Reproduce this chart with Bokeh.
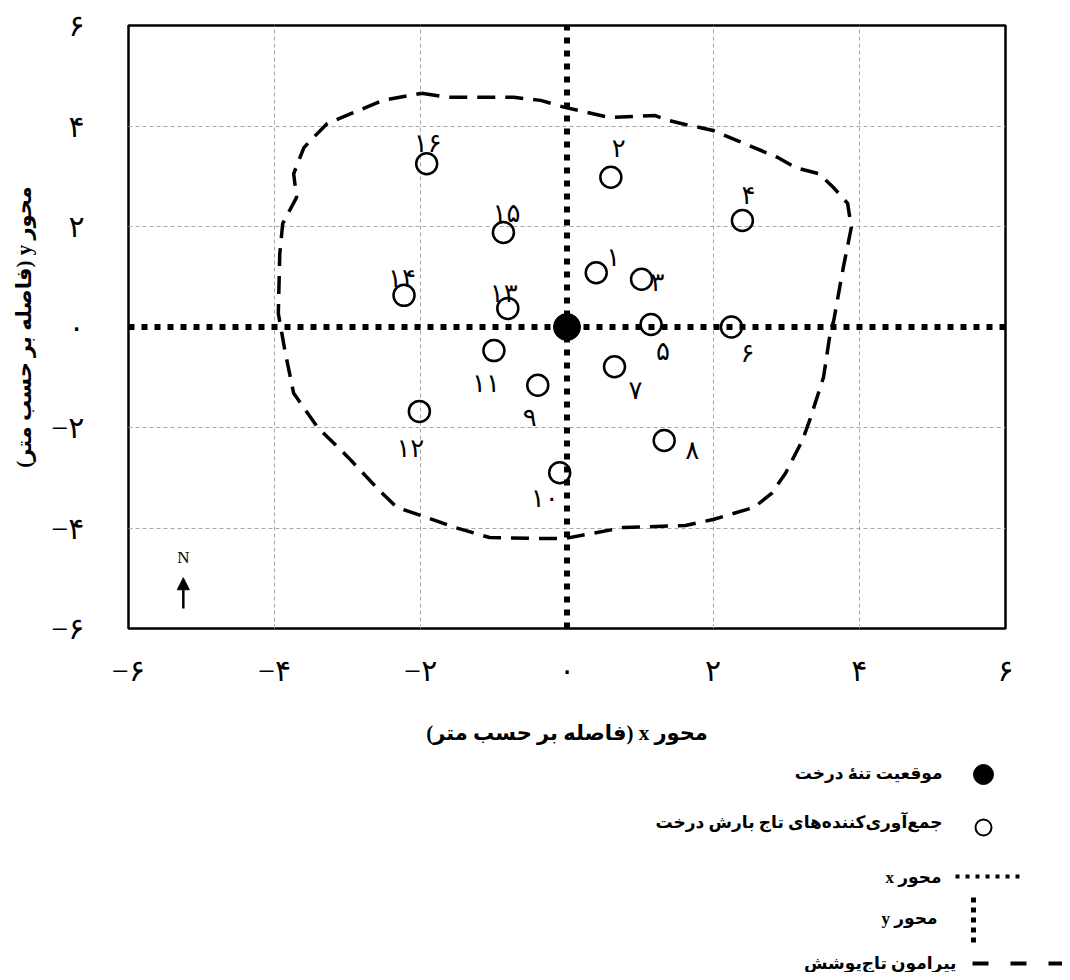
from bokeh.plotting import figure
from bokeh.models import Range1d, FixedTicker, Arrow, NormalHead, ColumnDataSource
from bokeh.layouts import column
from bokeh.embed import file_html
from bokeh.resources import INLINE
from bokeh.core.properties import value

# ---------------- data ----------------
tick_values = [-6, -4, -2, 0, 2, 4, 6]
grid_values = [-4, -2, 2, 4]

trunk_x = [0.0]
trunk_y = [0.0]

collector_ids = list(range(1, 17))
collector_x = [0.40, 0.60, 1.02, 2.40, 1.15, 2.25, 0.65, 1.33,
               -0.40, -0.10, -1.00, -2.02, -0.81, -2.23, -0.87, -1.92]
collector_y = [1.08, 2.98, 0.95, 2.12, 0.05, 0.00, -0.79, -2.26,
               -1.16, -2.90, -0.47, -1.68, 0.37, 0.63, 1.88, 3.25]

crown_x = [-1.99, -1.62, -0.73, -0.36, -0.03, 0.58, 1.20, 1.39, 1.62, 2.00,
           2.33, 2.56, 2.89, 3.13, 3.45, 3.65, 3.84, 3.89, 3.78, 3.65,
           3.60, 3.51, 3.32, 3.22, 2.99, 2.80, 2.56, 2.00, 1.62, 0.77,
           -0.03, -0.36, -1.06, -1.53, -2.00, -2.33, -2.57, -2.99, -3.41, -3.74,
           -3.86, -3.95, -3.93, -3.89, -3.70, -3.74, -3.60, -3.47, -3.28, -2.95,
           -2.52, -1.99]
crown_y = [4.65, 4.57, 4.57, 4.51, 4.37, 4.17, 4.21, 4.11, 4.03, 3.91,
           3.71, 3.57, 3.37, 3.17, 3.05, 2.77, 2.46, 1.98, 1.18, 0.13,
           -0.13, -1.00, -1.86, -2.26, -2.91, -3.31, -3.59, -3.83, -3.95, -3.99,
           -4.21, -4.21, -4.19, -3.99, -3.75, -3.59, -3.25, -2.60, -2.00, -1.32,
           -0.47, 0.27, 1.46, 2.06, 2.58, 3.05, 3.57, 3.77, 4.05, 4.25,
           4.51, 4.65]

# label placement (screen px offsets from each collector)
label_dx = [17, 8, 16, 6, 12, 16, 21, 28, -8, -15, -8, -9, -4, -2, 3, 1]
label_dy = [-15, -29, 3, -25, 27, 26, 24, 10, 32, 26, 33, 37, -15, -17, -19, -20]

x_title = "محور x (فاصله بر حسب متر)"
y_title = "محور y (فاصله بر حسب متر)"
legend_texts = ["موقعیت تنهٔ درخت",
                "جمع‌آوری‌کننده‌های تاج بارش درخت",
                "محور x",
                "محور y",
                "پیرامون تاج‌پوشش"]

FA_DIGITS = str.maketrans("0123456789", "۰۱۲۳۴۵۶۷۸۹")


def fa(n):
    s = str(abs(n)).translate(FA_DIGITS)
    return ("\u2212" + s) if n < 0 else s


def rtl(s):
    return "\u202B" + s + "\u202C"


AR_FONT = "'Liberation Serif', 'DejaVu Sans'"
TITLE_FONT = "'Liberation Serif', 'DejaVu Sans'"

# ---------------- main chart ----------------
p = figure(width=1062, height=750,
           x_range=Range1d(tick_values[0], tick_values[-1]),
           y_range=Range1d(tick_values[0], tick_values[-1]),
           output_backend="svg", toolbar_location=None,
           min_border_left=128, min_border_right=57,
           min_border_top=25, min_border_bottom=122)
p.background_fill_color = "white"
p.border_fill_color = "white"
p.outline_line_color = "black"
p.outline_line_width = 2.5
p.outline_line_alpha = 1.0

for ax in (p.xaxis[0], p.yaxis[0]):
    ax.ticker = FixedTicker(ticks=tick_values)
    ax.major_label_overrides = {t: fa(t) for t in tick_values}
    ax.major_tick_line_color = None
    ax.minor_tick_line_color = None
    ax.axis_line_color = None
    ax.major_label_text_font = AR_FONT
    ax.major_label_text_font_size = "30px"
    ax.major_label_text_color = "black"
    ax.axis_label_text_font = TITLE_FONT
    ax.axis_label_text_font_style = "bold"
    ax.axis_label_text_font_size = "21px"
    ax.axis_label_text_color = "black"

p.xaxis[0].axis_label = rtl(x_title)
p.yaxis[0].axis_label = rtl(y_title)
p.xaxis[0].major_label_standoff = 19
p.xaxis[0].axis_label_standoff = 31
p.yaxis[0].major_label_standoff = 38
p.yaxis[0].axis_label_standoff = 12
p.yaxis[0].major_label_orientation = "horizontal"

for g in (p.xgrid[0], p.ygrid[0]):
    g.ticker = FixedTicker(ticks=grid_values)
    g.grid_line_color = "#a6a6a6"
    g.grid_line_dash = "4 3"
    g.grid_line_width = 1

# crown perimeter
p.line(crown_x, crown_y, line_color="black", line_width=3.5, line_dash="18 10")

# the x and y axes through the trunk
p.line([tick_values[0], tick_values[-1]], [trunk_y[0], trunk_y[0]],
       line_color="black", line_width=6, line_dash="6 7")
p.line([trunk_x[0], trunk_x[0]], [tick_values[0], tick_values[-1]],
       line_color="black", line_width=6, line_dash="6 7")

src = ColumnDataSource(dict(x=collector_x, y=collector_y,
                            lab=[fa(i) for i in collector_ids],
                            dx=label_dx, dy=label_dy))
p.scatter("x", "y", source=src, marker="circle", size=21,
          fill_color=None, line_color="black", line_width=2.5)
p.text("x", "y", text="lab", source=src, x_offset="dx", y_offset="dy",
       text_align="center", text_baseline="middle",
       text_font=value(AR_FONT), text_font_size="26px", text_color="black")

p.scatter(trunk_x, trunk_y, marker="circle", size=27,
          fill_color="black", line_color="black")

# north arrow
north_x = -5.25
p.add_layout(Arrow(end=NormalHead(size=12, fill_color="black", line_color="black"),
                   x_start=north_x, y_start=-5.60, x_end=north_x, y_end=-4.99,
                   line_width=2.5, line_color="black"))
p.text([north_x], [-4.59], text=["N"], text_align="center", text_baseline="middle",
       text_font=value("Liberation Serif"), text_font_size="17px", text_color="black")

# ---------------- legend panel ----------------
leg = figure(width=1062, height=222,
             x_range=Range1d(0, 1062), y_range=Range1d(972, 750),
             output_backend="svg", toolbar_location=None,
             x_axis_location=None, y_axis_location=None,
             min_border=0, min_border_left=0, min_border_right=0,
             min_border_top=0, min_border_bottom=0)
leg.outline_line_color = None
leg.xgrid.visible = False
leg.ygrid.visible = False
leg.background_fill_color = "white"
leg.border_fill_color = "white"
for fig in (p, leg):
    try:
        fig.frame_align = False
    except Exception:
        pass

leg.scatter([983], [774], marker="circle", size=20, fill_color="black", line_color="black")
leg.scatter([983], [827], marker="circle", size=16, fill_color=None,
            line_color="black", line_width=2)
leg.line([955, 1020], [876, 876], line_color="black", line_width=4, line_dash="4 6")
leg.line([973, 973], [897, 943], line_color="black", line_width=5, line_dash="5 5")
leg.line([972, 1067], [963, 963], line_color="black", line_width=4, line_dash="16 22")

leg.text([942, 942, 941, 937, 956], [773, 822, 877, 918, 963],
         text=[rtl(t) for t in legend_texts],
         text_align="right", text_baseline="middle",
         text_font=value(TITLE_FONT), text_font_style="bold",
         text_font_size="17px", text_color="black")

layout = column(p, leg, spacing=0)
open("out.html", "w").write(file_html(layout, INLINE))
